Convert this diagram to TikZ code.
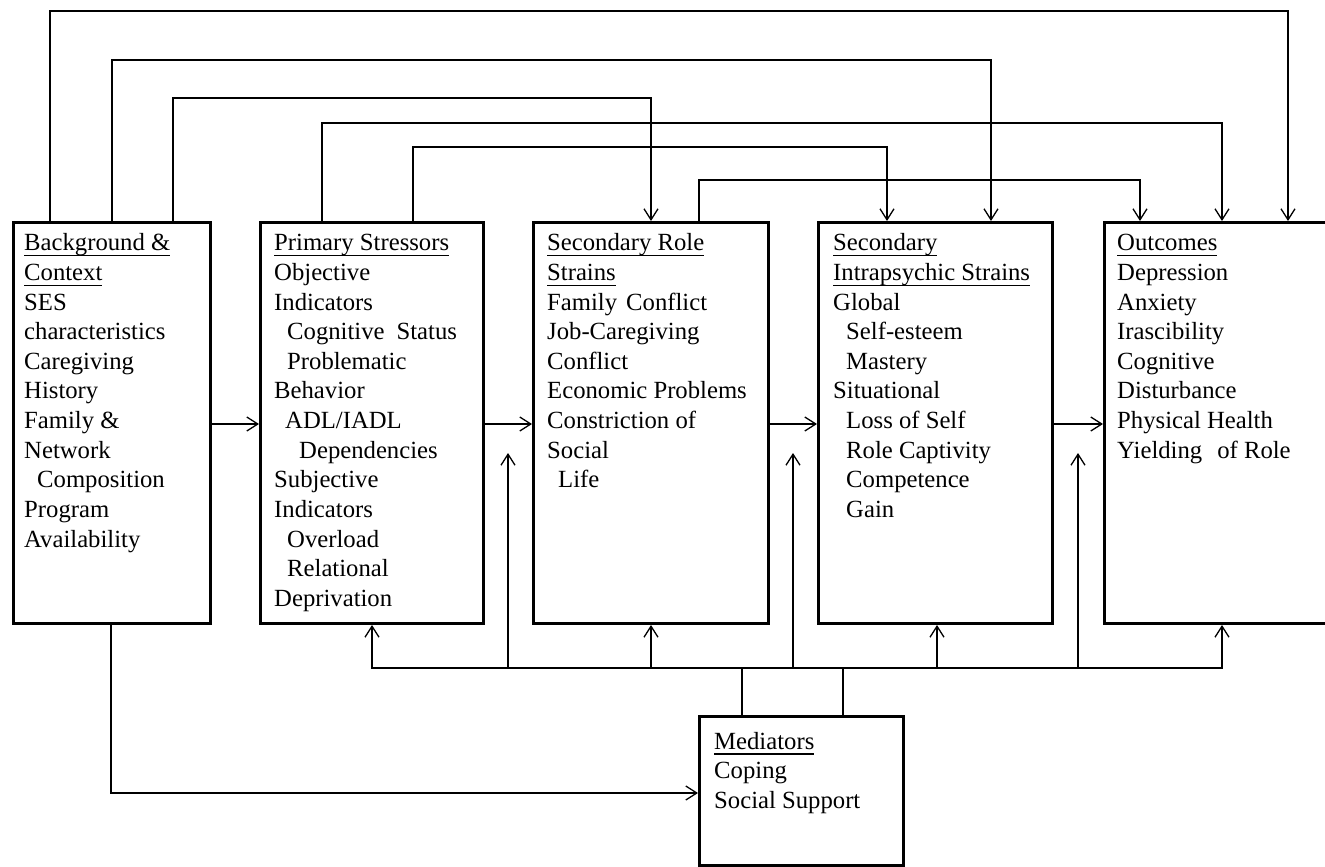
\documentclass[tikz,border=0pt]{standalone}
\usepackage{fontspec}
\setmainfont{Liberation Serif}
\usetikzlibrary{arrows.meta}
\newcommand\ulx[1]{{\setbox0\hbox{#1}\rlap{\vrule width\wd0 height -4.3pt depth 5.7pt}\box0}}
\newcommand\txtlines[1]{\vtop{\baselineskip=29.65pt\lineskiplimit=-100pt\lineskip=0pt\halign{##\hfil\cr#1\crcr}}}
\newcommand\ind[1]{\hspace*{#1pt}}
\tikzset{
  box/.style={draw, line width=3pt, inner sep=0pt, anchor=north west},
  txt/.style={inner sep=0pt, anchor=base west, font=\fontsize{24.7pt}{29.65pt}\selectfont},
  ln/.style={line width=1.3pt},
  arr/.style={line width=1.3pt, -{Straight Barb[length=11pt,width=14pt]}},
}
\begin{document}
\begin{tikzpicture}[x=1pt,y=-1pt]
\useasboundingbox (0,0) rectangle (1325,867);
\fill[white] (0,0) rectangle (1325,867);

% boxes
\node[box, minimum width=197pt, minimum height=401pt] (bg) at (12,221) {};
\node[box, minimum width=223pt, minimum height=401pt] (ps) at (259,221) {};
\node[box, minimum width=235pt, minimum height=401pt] (sr) at (532,221) {};
\node[box, minimum width=234pt, minimum height=401pt] (is) at (817,221) {};
\node[box, minimum width=240pt, minimum height=401pt] (out) at (1103,221) {};
\node[box, minimum width=204pt, minimum height=149pt] (med) at (698,715) {};

% texts
\node[txt] (bgT) at (24,250.7) {\txtlines{\ulx{Background \&}\cr \ulx{Context}\cr SES\cr characteristics\cr Caregiving\cr History\cr Family \&\cr Network\cr \ind{13}Composition\cr Program\cr Availability}};
\node[txt] (psT) at (274,250.7) {\txtlines{\ulx{Primary Stressors}\cr Objective\cr Indicators\cr \ind{13}Cognitive\hspace{12pt}Status\cr \ind{13}Problematic\cr Behavior\cr \ind{11}ADL/IADL\cr \ind{25}Dependencies\cr Subjective\cr Indicators\cr \ind{13}Overload\cr \ind{13}Relational\cr Deprivation}};
\node[txt] (srT) at (547,250.7) {\txtlines{\ulx{Secondary Role}\cr \ulx{Strains}\cr Family\hspace{9pt}Conflict\cr Job-Caregiving\cr Conflict\cr Economic Problems\cr Constriction of\cr Social\cr \ind{11}Life}};
\node[txt] (isT) at (833,250.7) {\txtlines{\ulx{Secondary}\cr \ulx{Intrapsychic Strains}\cr Global\cr \ind{13}Self-esteem\cr \ind{13}Mastery\cr Situational\cr \ind{13}Loss of Self\cr \ind{13}Role Captivity\cr \ind{13}Competence\cr \ind{13}Gain}};
\node[txt] (outT) at (1117,250.7) {\txtlines{\ulx{Outcomes}\cr Depression\cr Anxiety\cr Irascibility\cr Cognitive\cr Disturbance\cr Physical Health\cr Yielding\hspace{15pt}of Role}};
\node[txt] (medT) at (714,749) {\txtlines{\ulx{Mediators}\cr Coping\cr Social Support}};

% top connectors
\coordinate (xA) at (50,0);   \coordinate (tA) at (1288,11);
\coordinate (xB) at (112,0);  \coordinate (tB) at (991,60);
\coordinate (xC) at (173,0);  \coordinate (tC) at (651,98);
\coordinate (xD) at (322,0);  \coordinate (tD) at (1222,123);
\coordinate (xE) at (413,0);  \coordinate (tE) at (887,147);
\coordinate (xF) at (699,0);  \coordinate (tF) at (1140,180);
\draw[arr] (bg.north -| xA) |- (tA) -- (out.north -| tA);
\draw[arr] (bg.north -| xB) |- (tB) -- (is.north -| tB);
\draw[arr] (bg.north -| xC) |- (tC) -- (sr.north -| tC);
\draw[arr] (ps.north -| xD) |- (tD) -- (out.north -| tD);
\draw[arr] (ps.north -| xE) |- (tE) -- (is.north -| tE);
\draw[arr] (sr.north -| xF) |- (tF) -- (out.north -| tF);

% horizontal flow
\coordinate (h) at (0,424);
\draw[arr] (bg.east |- h) -- (ps.west |- h);
\draw[arr] (ps.east |- h) -- (sr.west |- h);
\draw[arr] (sr.east |- h) -- (is.west |- h);
\draw[arr] (is.east |- h) -- (out.west |- h);

% bottom bus
\coordinate (m1) at (742,668);
\coordinate (m2) at (843,668);
\coordinate (b2) at (372,668);
\coordinate (b3) at (651,668);
\coordinate (b4) at (937,668);
\coordinate (b5) at (1222,668);
\coordinate (u1) at (508,668);  \coordinate (u1t) at (508,453);
\coordinate (u2) at (793,668);  \coordinate (u2t) at (793,453);
\coordinate (u3) at (1078,668); \coordinate (u3t) at (1078,453);
\draw[ln] (med.north -| m1) -- (m1);
\draw[ln] (med.north -| m2) -- (m2);
\draw[ln] (m1) -- (m2);
\draw[arr] (m1) -- (b2) -- (ps.south -| b2);
\draw[arr] (m2) -- (b5) -- (out.south -| b5);
\draw[arr] (b3) -- (sr.south -| b3);
\draw[arr] (b4) -- (is.south -| b4);
\draw[arr] (u1) -- (u1t);
\draw[arr] (u2) -- (u2t);
\draw[arr] (u3) -- (u3t);

% background to mediators
\coordinate (xL) at (111,793);
\draw[arr] (bg.south -| xL) -- (xL) -- (med.west |- xL);
\end{tikzpicture}
\end{document}
